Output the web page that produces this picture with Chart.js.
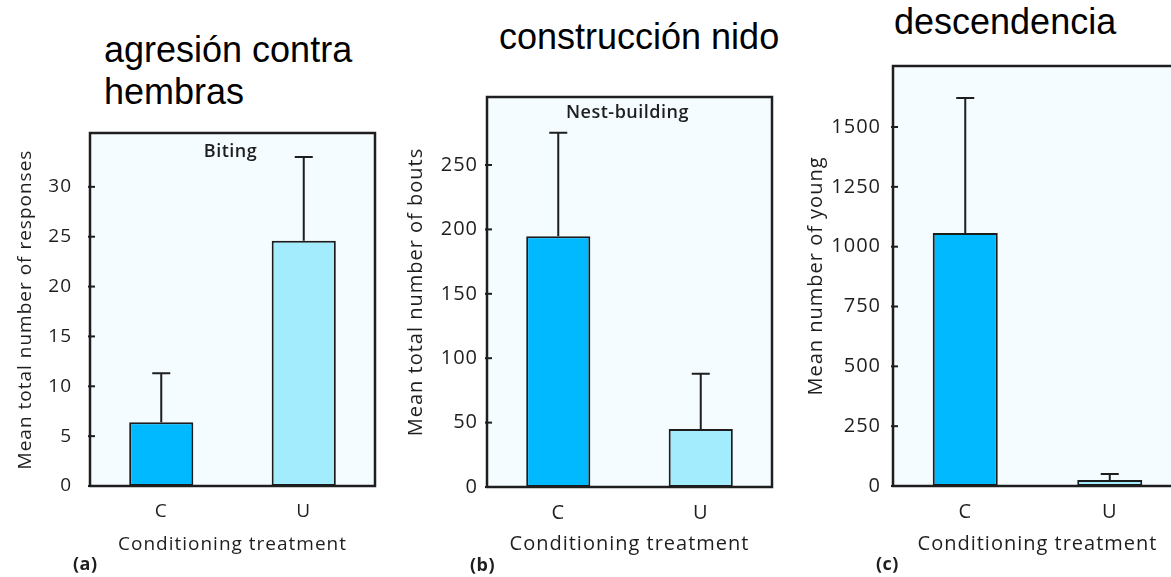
<!DOCTYPE html>
<html>
<head>
<meta charset="utf-8">
<script src="https://cdn.jsdelivr.net/npm/chart.js@4.4.1/dist/chart.umd.min.js"></script>
<style>
  html, body { margin: 0; padding: 0; background: #ffffff; width: 1171px; height: 577px; overflow: hidden; }
  .panel { position: absolute; top: 0; height: 577px; }
  .panel canvas { filter: blur(0.5px); }
  .head { position: absolute; font-family: "Liberation Sans", Arial, sans-serif; font-size: 36px;
          line-height: 42px; color: #000; white-space: nowrap; }
</style>
</head>
<body>
<div class="head" style="left:104px; top:29px;">agresión contra<br>hembras</div>
<div class="head" style="left:499px; top:16px;">construcción nido</div>
<div class="head" style="left:894px; top:1px;">descendencia</div>

<div class="panel" style="left:0px; width:390px;"><canvas id="panelA"></canvas></div>
<div class="panel" style="left:395px; width:390px;"><canvas id="panelB"></canvas></div>
<div class="panel" style="left:790px; width:400px;"><canvas id="panelC"></canvas></div>

<script>
// Conditioning treatments on the x axis
const categories = ['C', 'U'];

// (a) Biting: mean total number of responses and standard error
const bitingMeans = [6.4, 24.6];
const bitingErrors = [4.9, 8.4];
const bitingTicks = [0, 5, 10, 15, 20, 25, 30];

// (b) Nest-building: mean total number of bouts and standard error
const nestMeans = [194.6, 45];
const nestErrors = [80.4, 43];
const nestTicks = [0, 50, 100, 150, 200, 250];

// (c) Mean number of young and standard error
const youngMeans = [1057, 25];
const youngErrors = [564, 25];
const youngTicks = [0, 250, 500, 750, 1000, 1250, 1500];

const barFills = ['#00b9ff', '#a2ecfd'];
const inkColor = '#1e1e1e';
const FONT = '"Open Sans", "Noto Sans", sans-serif';

// Framed plot box, one-sided error bars, inward ticks and panel captions
const panelDecor = {
  id: 'panelDecor',
  beforeDraw(chart) {
    chart.ctx.letterSpacing = '1px';
  },
  beforeDatasetsDraw(chart) {
    const { ctx, chartArea: a } = chart;
    ctx.save();
    ctx.fillStyle = '#f4fcff';
    ctx.fillRect(a.left, a.top, a.right - a.left, a.bottom - a.top);
    ctx.restore();
  },
  afterDatasetsDraw(chart, args, opts) {
    const { ctx, chartArea: a } = chart;
    const y = chart.scales.y;
    ctx.save();
    ctx.strokeStyle = inkColor;
    ctx.lineWidth = 2;
    ctx.lineCap = 'butt';

    chart.data.datasets.forEach((ds, di) => {
      const meta = chart.getDatasetMeta(di);
      meta.data.forEach((bar, i) => {
        const top = y.getPixelForValue(ds.data[i] + ds.errors[i]);
        ctx.beginPath();
        ctx.moveTo(bar.x, bar.y);
        ctx.lineTo(bar.x, top);
        ctx.moveTo(bar.x - 9, top);
        ctx.lineTo(bar.x + 9, top);
        ctx.stroke();
      });
    });

    ctx.lineWidth = 2.5;
    ctx.strokeRect(a.left, a.top, a.right - a.left, a.bottom - a.top);

    ctx.lineWidth = 2;
    y.ticks.forEach(t => {
      const py = y.getPixelForValue(t.value);
      ctx.beginPath();
      ctx.moveTo(a.left - 2, py);
      ctx.lineTo(a.left + 5, py);
      ctx.stroke();
    });

    ctx.letterSpacing = '0.5px';
    ctx.fillStyle = inkColor;
    ctx.textBaseline = 'middle';
    if (opts.inner) {
      ctx.font = '600 18px ' + FONT;
      ctx.textAlign = 'center';
      ctx.fillText(opts.inner, (a.left + a.right) / 2 - 2, a.top + opts.innerOffset);
    }
    ctx.font = '700 18px ' + FONT;
    ctx.textAlign = 'left';
    ctx.fillText(opts.tag, a.left - 17, a.bottom + 79);
    ctx.restore();
  }
};

function buildPanel(id, p) {
  return new Chart(document.getElementById(id), {
    type: 'bar',
    data: {
      labels: categories,
      datasets: [{
        data: p.means,
        errors: p.errors,
        backgroundColor: barFills,
        borderColor: '#1c1c1c',
        borderWidth: 2,
        borderSkipped: false,
        barPercentage: 0.45,
        categoryPercentage: 1
      }]
    },
    options: {
      responsive: true,
      maintainAspectRatio: false,
      devicePixelRatio: 1,
      animation: false,
      events: [],
      layout: { padding: p.padding },
      plugins: {
        legend: { display: false },
        tooltip: { enabled: false },
        panelDecor: { inner: p.inner, innerOffset: p.innerOffset, tag: p.tag }
      },
      scales: {
        x: {
          grid: { display: false, drawTicks: false },
          border: { display: false },
          ticks: { color: inkColor, font: { family: FONT, size: p.fs, weight: '500' }, padding: 14 },
          title: { display: true, text: 'Conditioning treatment', color: inkColor,
                   font: { family: FONT, size: p.fs, weight: '500' }, padding: { top: 0, bottom: 10 } },
          afterFit: s => { s.height = p.xHeight; }
        },
        y: {
          min: 0,
          max: p.max,
          grid: { display: false, drawTicks: false },
          border: { display: false },
          afterBuildTicks: s => { s.ticks = p.ticks.map(v => ({ value: v })); },
          ticks: { color: inkColor, font: { family: FONT, size: p.fs, weight: '500' }, padding: p.tickPad,
                   callback: v => String(v) },
          title: { display: true, text: p.yTitle, color: inkColor,
                   font: { family: FONT, size: p.fs, weight: '500' }, padding: { top: p.titlePad, bottom: 0 } },
          afterFit: s => { s.width = p.yWidth; }
        }
      }
    },
    plugins: [panelDecor]
  });
}

buildPanel('panelA', {
  means: bitingMeans, errors: bitingErrors, ticks: bitingTicks, max: 35.4,
  padding: { left: 5, top: 133, right: 15, bottom: 11 }, yWidth: 85, xHeight: 80,
  fs: 19, tickPad: 18, titlePad: 9, yTitle: 'Mean total number of responses',
  inner: 'Biting', innerOffset: 19, tag: '(a)'
});

buildPanel('panelB', {
  means: nestMeans, errors: nestErrors, ticks: nestTicks, max: 302.8,
  padding: { left: 5, top: 97, right: 13, bottom: 11 }, yWidth: 87, xHeight: 79,
  fs: 20, tickPad: 9, titlePad: 4, yTitle: 'Mean total number of bouts',
  inner: 'Nest-building', innerOffset: 16, tag: '(b)'
});

buildPanel('panelC', {
  means: youngMeans, errors: youngErrors, ticks: youngTicks, max: 1755,
  padding: { left: 5, top: 66, right: 8, bottom: 11 }, yWidth: 98, xHeight: 80,
  fs: 20, tickPad: 12, titlePad: 9, yTitle: 'Mean number of young',
  inner: '', innerOffset: 0, tag: '(c)'
});
</script>
</body>
</html>
